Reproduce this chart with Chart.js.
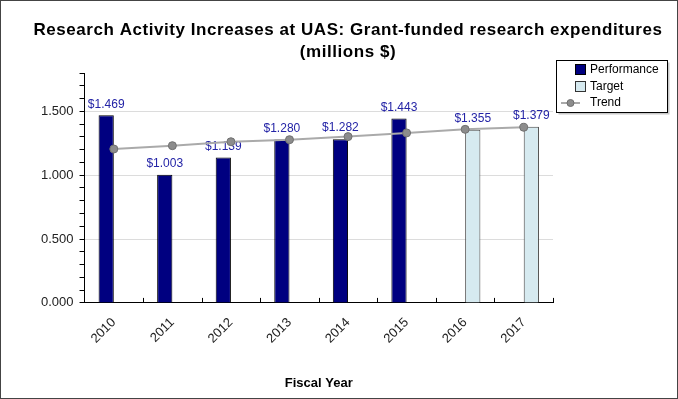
<!DOCTYPE html>
<html>
<head>
<meta charset="utf-8">
<script src="https://cdn.jsdelivr.net/npm/chart.js@4"></script>
<style>
  html, body { margin: 0; padding: 0; background: #fff; }
  #wrap { width: 678px; height: 399px; position: relative; }
</style>
</head>
<body>
<div id="wrap"><canvas id="chart" width="678" height="399"></canvas></div>
<script>
// Data
const years = ['2010', '2011', '2012', '2013', '2014', '2015', '2016', '2017'];
const performance = [1.469, 1.003, 1.139, 1.280, 1.282, 1.443, null, null];
const target = [null, null, null, null, null, null, 1.355, 1.379];
const trend = [1.205, 1.231, 1.262, 1.278, 1.302, 1.331, 1.359, 1.375];
const titleLines = ['Research Activity Increases at UAS: Grant-funded research expenditures', '(millions $)'];

const FONT = '"Liberation Sans", Arial, sans-serif';

// value labels over the bars, drawn before the trend line
const barLabels = {
    id: 'barLabels',
    afterDatasetDraw(chart, args) {
        const ds = chart.data.datasets[args.index];
        if (ds.type === 'line') return;
        const ctx = chart.ctx;
        ctx.save();
        ctx.font = '12px ' + FONT;
        ctx.fillStyle = '#2323a6';
        ctx.textAlign = 'center';
        ctx.textBaseline = 'bottom';
        args.meta.data.forEach((bar, i) => {
            const v = ds.data[i];
            if (v == null) return;
            ctx.fillText('$' + v.toFixed(3), bar.x, bar.y - 5);
        });
        ctx.restore();
    }
};

// title, frame, inner x ticks and the legend box
const decor = {
    id: 'decor',
    afterDraw(chart) {
        const ctx = chart.ctx;
        const area = chart.chartArea;
        const x = chart.scales.x;
        ctx.save();

        // title
        ctx.fillStyle = '#000';
        ctx.font = 'bold 17px ' + FONT;
        ctx.letterSpacing = '0.55px';
        ctx.textAlign = 'center';
        ctx.textBaseline = 'middle';
        ctx.fillText(titleLines[0], 348, 30);
        ctx.fillText(titleLines[1], 348, 52);
        ctx.letterSpacing = '0px';

        // inner tick marks between categories
        ctx.strokeStyle = '#000';
        ctx.lineWidth = 1;
        const step = (x.getPixelForValue(1) - x.getPixelForValue(0));
        for (let i = 1; i <= years.length; i++) {
            const px = Math.round(x.getPixelForValue(i) - step / 2) + 0.5;
            ctx.beginPath();
            ctx.moveTo(px, area.bottom);
            ctx.lineTo(px, area.bottom - 5);
            ctx.stroke();
        }

        // legend
        const lx = 556.5, ly = 60.5, lw = 111, lh = 52;
        ctx.fillStyle = '#c8c8c8';
        ctx.fillRect(lx + 2, ly + 2, lw, lh);
        ctx.fillStyle = '#fff';
        ctx.fillRect(lx, ly, lw, lh);
        ctx.strokeStyle = '#000';
        ctx.strokeRect(lx, ly, lw, lh);

        ctx.font = '12px ' + FONT;
        ctx.textBaseline = 'middle';
        ctx.textAlign = 'left';

        ctx.fillStyle = '#000080';
        ctx.fillRect(575.5, 64.5, 10, 10);
        ctx.strokeStyle = '#000';
        ctx.strokeRect(575.5, 64.5, 10, 10);
        ctx.fillStyle = '#000';
        ctx.fillText('Performance', 590, 70);

        ctx.fillStyle = '#d6eaf0';
        ctx.fillRect(575.5, 81.5, 10, 10);
        ctx.strokeStyle = '#333';
        ctx.strokeRect(575.5, 81.5, 10, 10);
        ctx.fillStyle = '#000';
        ctx.fillText('Target', 590, 87);

        ctx.strokeStyle = '#aaa';
        ctx.lineWidth = 2;
        ctx.beginPath();
        ctx.moveTo(561, 103);
        ctx.lineTo(580, 103);
        ctx.stroke();
        ctx.fillStyle = '#8c8c8c';
        ctx.strokeStyle = '#6e6e6e';
        ctx.lineWidth = 1;
        ctx.beginPath();
        ctx.arc(570.5, 103, 3.5, 0, Math.PI * 2);
        ctx.fill();
        ctx.stroke();
        ctx.fillStyle = '#000';
        ctx.fillText('Trend', 590, 103);

        // outer frame
        ctx.strokeStyle = '#444';
        ctx.lineWidth = 1;
        ctx.strokeRect(0.5, 0.5, chart.width - 1, chart.height - 1);
        ctx.restore();
    }
};

new Chart(document.getElementById('chart'), {
    type: 'bar',
    data: {
        labels: years,
        datasets: [
            {
                type: 'line',
                label: 'Trend',
                data: trend,
                order: 0,
                borderColor: '#aaaaaa',
                borderWidth: 2,
                pointRadius: 4,
                pointBackgroundColor: '#8c8c8c',
                pointBorderColor: '#707070',
                pointBorderWidth: 1,
                tension: 0,
                fill: false
            },
            {
                label: 'Performance',
                data: performance,
                order: 1,
                backgroundColor: '#000080',
                borderColor: '#000000',
                borderWidth: 1,
                barPercentage: 1.0,
                categoryPercentage: 0.52
            },
            {
                label: 'Target',
                data: target,
                order: 1,
                backgroundColor: '#d6eaf0',
                borderColor: '#444444',
                borderWidth: 1,
                barPercentage: 1.0,
                categoryPercentage: 0.52
            }
        ]
    },
    options: {
        responsive: false,
        animation: false,
        layout: { padding: { left: 35, right: 125, top: 73, bottom: 8 } },
        plugins: {
            legend: { display: false },
            tooltip: { enabled: false },
            title: { display: false }
        },
        scales: {
            x: {
                offset: true,
                grid: { display: false },
                border: { color: '#000' },
                ticks: {
                    color: '#222',
                    font: { family: FONT, size: 13 },
                    maxRotation: 45,
                    minRotation: 45,
                    padding: 4
                },
                title: {
                    display: true,
                    text: 'Fiscal Year',
                    color: '#000',
                    font: { family: FONT, size: 13, weight: 'bold' },
                    padding: { top: 25, bottom: 0 }
                }
            },
            y: {
                min: 0,
                max: 1.8,
                border: { color: '#000' },
                grid: {
                    color: ctx => {
                        const v = ctx.tick ? ctx.tick.value : 0;
                        const major = Math.abs(v * 2 - Math.round(v * 2)) < 1e-6;
                        return major && v > 0 ? '#dcdcdc' : 'rgba(0,0,0,0)';
                    },
                    tickColor: '#000',
                    tickLength: 5
                },
                ticks: {
                    stepSize: 0.1,
                    autoSkip: false,
                    color: '#222',
                    padding: 6,
                    font: { family: FONT, size: 13 },
                    callback: v => Math.abs(v * 2 - Math.round(v * 2)) < 1e-6 ? v.toFixed(3) : ''
                }
            }
        }
    },
    plugins: [barLabels, decor]
});
</script>
</body>
</html>
